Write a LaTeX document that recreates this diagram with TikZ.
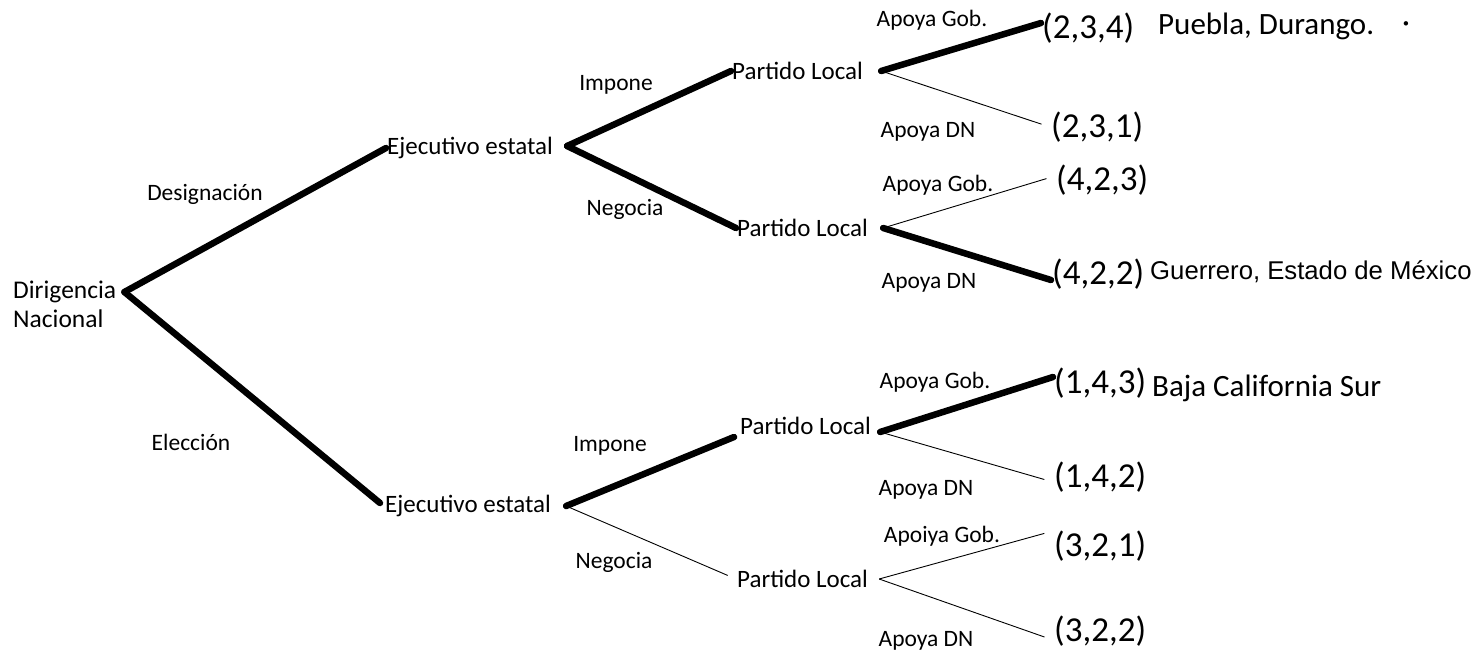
\documentclass[tikz,border=0pt]{standalone}
\usepackage{fontspec}
\setmainfont{Carlito}
\newfontfamily\arialfont{Liberation Sans}

\tikzset{
  jugador/.style={font=\fontsize{25}{27}\selectfont, inner sep=1pt, anchor=west},
  accion/.style={font=\fontsize{23.5}{25}\selectfont, inner sep=0pt},
  pago/.style={font=\fontsize{35}{37}\selectfont, inner sep=1pt, anchor=west},
  estado/.style={font=\fontsize{31}{33}\selectfont, inner sep=0pt, anchor=west},
  elegida/.style={line width=6.5pt, line cap=round},
  rama/.style={line width=0.9pt, shorten >=9pt}
}

\begin{document}
\begin{tikzpicture}[x=1pt, y=-1pt]
  \useasboundingbox (0,0) rectangle (1477,653);
  % players
  \node [jugador, align=left, font=\fontsize{25.5}{29}\selectfont] (dn) at (12,304) {Dirigencia\\Nacional};
  \node [jugador] (ee1) at (386,148) {Ejecutivo estatal};
  \node [jugador] (ee2) at (384,506) {Ejecutivo estatal};
  \node [jugador] (pl1) at (731,71) {Partido Local};
  \node [jugador] (pl2) at (736,228) {Partido Local};
  \node [jugador] (pl3) at (739,426) {Partido Local};
  \node [jugador] (pl4) at (736,579) {Partido Local};
  % payoffs
  \node [pago] (t1) at (1041,28) {(2,3,4)};
  \node [pago] (t2) at (1050,127) {(2,3,1)};
  \node [pago] (t3) at (1055,180) {(4,2,3)};
  \node [pago] (t4) at (1051,274) {(4,2,2)};
  \node [pago] (t5) at (1053,383) {(1,4,3)};
  \node [pago] (t6) at (1053,477) {(1,4,2)};
  \node [pago] (t7) at (1053,546) {(3,2,1)};
  \node [pago] (t8) at (1053,631) {(3,2,2)};
  \node [estado] (s1) at (1158,26) {Puebla, Durango.};
  \node [estado] (s1b) at (1402,27) {·};
  \node [estado, font=\arialfont\fontsize{25.7}{27}\selectfont] (s2) at (1150,272) {Guerrero, Estado de México};
  \node [estado] (s3) at (1152,388) {Baja California Sur};
  % branches
  \draw [elegida] ([xshift=7pt,yshift=12pt]dn.east) -- (ee1.west);
  \draw [elegida] ([xshift=7pt,yshift=12pt]dn.east) -- ([xshift=-4pt,yshift=3pt]ee2.west);
  \draw [elegida] ([xshift=13pt,yshift=2pt]ee1.east) -- (pl1.west);
  \draw [elegida] ([xshift=13pt,yshift=2pt]ee1.east) -- (pl2.west);
  \draw [elegida] ([xshift=14pt]ee2.east) -- ([xshift=-5pt,yshift=-11pt]pl3.west);
  \draw [rama] ([xshift=14pt]ee2.east) -- (pl4.west);
  \draw [elegida] ([xshift=17pt]pl1.east) -- ([yshift=5pt]t1.west);
  \draw [rama] ([xshift=17pt]pl1.east) -- (t2.west);
  \draw [rama] ([xshift=14pt]pl2.east) -- ([yshift=4pt]t3.west);
  \draw [elegida] ([xshift=14pt]pl2.east) -- ([yshift=-6pt]t4.west);
  \draw [elegida] ([xshift=8pt,yshift=-6pt]pl3.east) -- ([yshift=6pt]t5.west);
  \draw [rama] ([xshift=8pt,yshift=-6pt]pl3.east) -- ([yshift=-5pt]t6.west);
  \draw [rama] ([xshift=10pt]pl4.east) -- ([yshift=15pt]t7.west);
  \draw [rama] ([xshift=10pt]pl4.east) -- ([yshift=-9pt]t8.west);
  % actions
  \node [accion] (a1) at (205,194) {Designación};
  \node [accion] (a2) at (191,442) {Elección};
  \node [accion] (a3) at (616,85) {Impone};
  \node [accion] (a4) at (625,209) {Negocia};
  \node [accion] (a5) at (610,446) {Impone};
  \node [accion] (a6) at (614,562) {Negocia};
  \node [accion] (a7) at (932,20) {Apoya Gob.};
  \node [accion] (a8) at (928,132) {Apoya DN};
  \node [accion] (a9) at (938,185) {Apoya Gob.};
  \node [accion] (a10) at (929,283) {Apoya DN};
  \node [accion] (a11) at (935,382) {Apoya Gob.};
  \node [accion] (a12) at (926,490) {Apoya DN};
  \node [accion] (a13) at (942,536) {Apoiya Gob.};
  \node [accion] (a14) at (926,641) {Apoya DN};
\end{tikzpicture}
\end{document}
